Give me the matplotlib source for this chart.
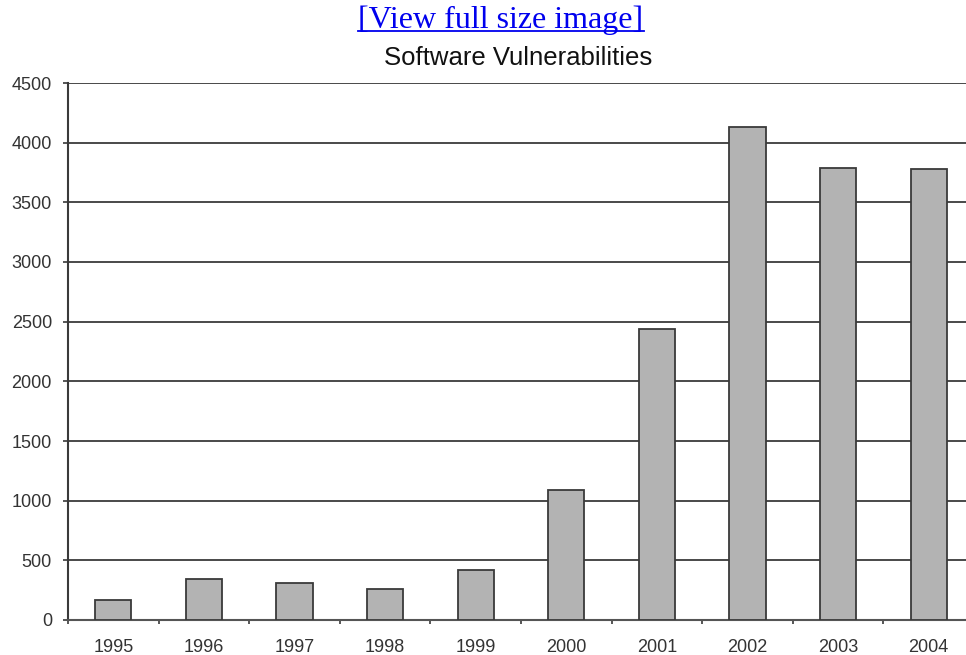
import numpy as np
import matplotlib
matplotlib.use("Agg")
import matplotlib.pyplot as plt
from matplotlib.lines import Line2D

# Vulnerabilidades de software por anio
years = ["1995", "1996", "1997", "1998", "1999", "2000", "2001", "2002", "2003", "2004"]
counts = [171, 345, 311, 262, 417, 1090, 2437, 4129, 3784, 3780]
yticks = [0, 500, 1000, 1500, 2000, 2500, 3000, 3500, 4000, 4500]

plt.rcParams['font.family'] = ['Liberation Sans', 'DejaVu Sans']

fig = plt.figure(figsize=(9.66, 6.55), dpi=100)
W, H = 966.0, 655.0
# ejes: izquierda 68px, y=0 en 620px, y=4500 en 83px, derecha cortada en 974px
ax = fig.add_axes([68 / W, (H - 620) / H, 906 / W, 537 / H])

x = np.arange(len(years))
ax.bar(x, counts, width=0.4, color="#b3b3b3", edgecolor="#3a3a3a", linewidth=1.3, zorder=3)

ax.set_xlim(-0.5, len(years) - 0.5)
ax.set_ylim(0, 4500)
ax.set_yticks(yticks)
ax.set_yticklabels([str(v) for v in yticks], fontsize=13, color="#333333")
ax.set_xticks(x)
ax.set_xticklabels(years, fontsize=13, color="#333333")
ax.tick_params(axis="x", length=0, pad=14)
ax.tick_params(axis="y", length=3.6, width=1.2, color="#3a3a3a", pad=8)
# marcas menores entre categorias
ax.set_xticks(np.arange(-0.5, len(years), 1.0), minor=True)
ax.tick_params(axis="x", which="minor", length=3, width=1.2, color="#3a3a3a")

ax.grid(axis="y", color="#3a3a3a", linewidth=1.3, zorder=0)
ax.set_axisbelow(True)
for s in ["top", "right"]:
    ax.spines[s].set_visible(False)
ax.spines["left"].set_color("#3a3a3a")
ax.spines["left"].set_linewidth(1.5)
ax.spines["bottom"].set_color("#555555")
ax.spines["bottom"].set_linewidth(1.5)

fig.text(518 / W, 1 - 58 / H, "Software Vulnerabilities", fontsize=18.5, color="#111111",
         ha="center", va="center")

link = fig.text(501 / W, 1 - 20 / H, "[View full size image]", fontsize=23, color="#0000ee",
                family=["Liberation Serif", "DejaVu Serif"], ha="center", va="center")
fig.canvas.draw()
bb = link.get_window_extent()
uy = bb.y0 + 4
fig.add_artist(Line2D([bb.x0 / W, bb.x1 / W], [uy / H, uy / H], color="#0000ee",
                      linewidth=1.3, transform=fig.transFigure))

plt.savefig("out.png", dpi=100)
